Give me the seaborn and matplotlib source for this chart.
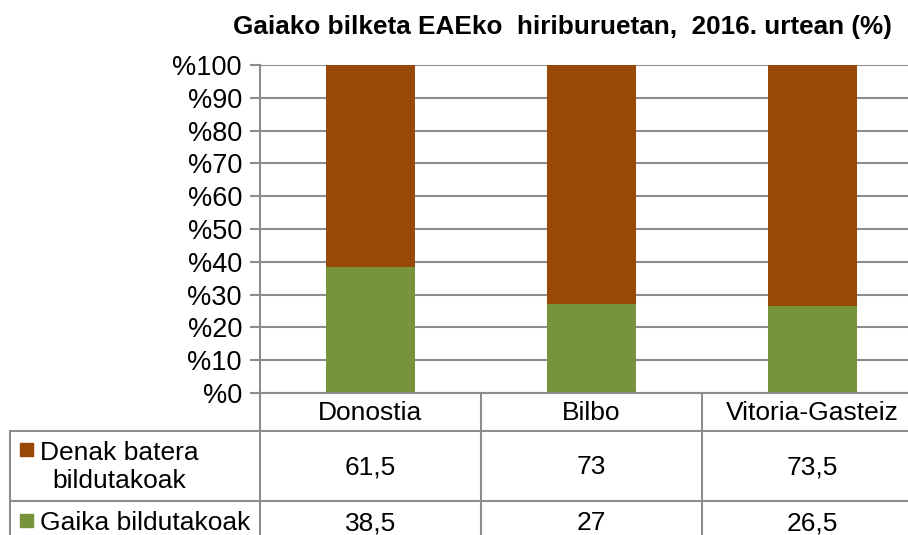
import matplotlib.pyplot as plt
from matplotlib.lines import Line2D
from matplotlib.patches import Rectangle
import pandas as pd
import seaborn as sns

# Data
cities = ['Donostia', 'Bilbo', 'Vitoria-Gasteiz']
denak_batera = [61.5, 73, 73.5]
gaika = [38.5, 27, 26.5]
series_labels = ['Denak batera\nbildutakoak', 'Gaika bildutakoak']
title = 'Gaiako bilketa EAEko  hiriburuetan,  2016. urtean (%)'

brown = '#984807'
green = '#77933C'
grid_col = '#8c8c8c'

sns.set_theme(style='white')
plt.rcParams['font.family'] = ['Liberation Sans', 'DejaVu Sans']
plt.rcParams['text.color'] = 'black'
plt.rcParams['ytick.labelcolor'] = 'black'

W, H = 908, 535
fig = plt.figure(figsize=(W / 100, H / 100), dpi=100)


def fx(x):
    return x / W


def fy(y):
    return 1 - y / H


# axes box in pixels (plot area runs a little past the right edge)
left, right, top, bottom = 260, 923, 65, 393
ax = fig.add_axes([fx(left), fy(bottom), fx(right - left), (bottom - top) / H])

df = pd.DataFrame({'city': cities, 'denak': denak_batera, 'gaika': gaika})
df['total'] = df['denak'] + df['gaika']

sns.barplot(data=df, x='city', y='total', color=brown, width=0.4, ax=ax,
            saturation=1, linewidth=0, zorder=3)
sns.barplot(data=df, x='city', y='gaika', color=green, width=0.4, ax=ax,
            saturation=1, linewidth=0, zorder=4)

ax.set_ylim(0, 100)
ax.set_xlim(-0.5, len(cities) - 0.5)
ax.set_yticks(range(0, 101, 10))
ax.set_yticklabels([f'%{v}' for v in range(0, 101, 10)], fontsize=19.5)
ax.set_xticks([])
ax.set_xlabel('')
ax.set_ylabel('')
ax.yaxis.grid(True, color=grid_col, linewidth=1.5, zorder=0)
ax.set_axisbelow(True)
ax.tick_params(axis='y', length=7, width=1.5, color=grid_col, left=True,
               pad=6, labelcolor='black')
for s in ['top', 'right', 'bottom']:
    ax.spines[s].set_visible(False)
ax.spines['left'].set_color(grid_col)
ax.spines['left'].set_linewidth(1.5)

fig.text(fx(562), fy(27), title, fontsize=18.8, fontweight='bold',
         ha='center', va='center', color='black')

# data table under the chart
def hline(y, x0, x1):
    fig.add_artist(Line2D([fx(x0), fx(x1)], [fy(y), fy(y)], color=grid_col,
                          linewidth=1.5, transform=fig.transFigure))


def vline(x, y0, y1):
    fig.add_artist(Line2D([fx(x), fx(x)], [fy(y0), fy(y1)], color=grid_col,
                          linewidth=1.5, transform=fig.transFigure))


hline(bottom, left, W)
hline(431, 10, W)
hline(501, 10, W)
col_w = (right - left) / len(cities)
for i in range(len(cities)):
    vline(left + i * col_w, bottom, H)
vline(10, 431, H)

for i, c in enumerate(cities):
    cx = left + (i + 0.5) * col_w
    fig.text(fx(cx), fy(413), c, fontsize=19, ha='center', va='center')
    fig.text(fx(cx), fy(467), f'{denak_batera[i]:g}'.replace('.', ','),
             fontsize=19, ha='center', va='center')
    fig.text(fx(cx), fy(523), f'{gaika[i]:g}'.replace('.', ','),
             fontsize=19, ha='center', va='center')

for (ytxt, ysq), lab, col in zip([(467, 449), (523, 520)], series_labels, [brown, green]):
    fig.add_artist(Rectangle((fx(20), fy(ysq + 7)), fx(13), 13 / H, color=col,
                             transform=fig.transFigure))
    fig.text(fx(40), fy(ytxt), lab, fontsize=19, ha='left', va='center',
             multialignment='center', linespacing=1.25)

fig.savefig('out.png', dpi=100)
